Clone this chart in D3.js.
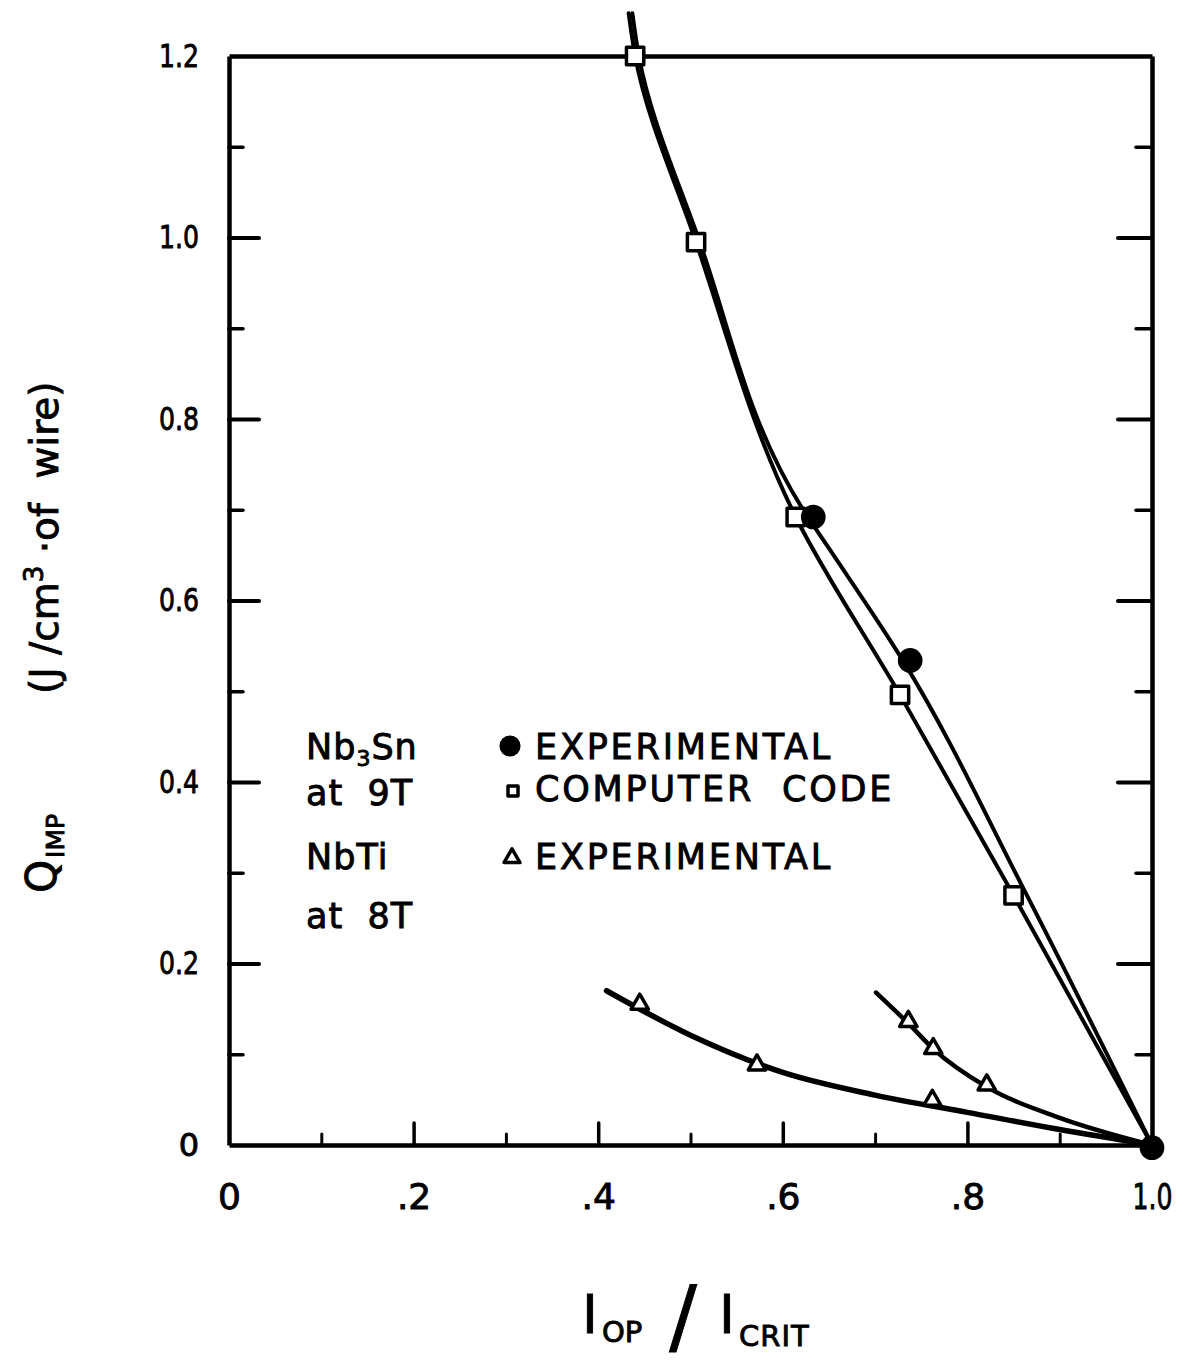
<!DOCTYPE html>
<html><head><meta charset="utf-8">
<script src="https://cdn.jsdelivr.net/npm/d3@7"></script>
<style>
body{margin:0;background:#fff}
text{font-family:"DejaVu Sans",sans-serif;fill:#000;stroke:#000;stroke-width:0.9px;white-space:pre}
</style>
</head><body>
<svg id="chart" width="1193" height="1364"></svg>
<script>
// ---- tick data ----
const xTickValues = [0, 0.2, 0.4, 0.6, 0.8, 1.0];
const xTickLabels = ["0", ".2", ".4", ".6", ".8", "1.0"];
const xMinorTicks = [0.1, 0.3, 0.5, 0.7, 0.9];
const yTickValues = [0, 0.2, 0.4, 0.6, 0.8, 1.0, 1.2];
const yTickLabels = ["0", "0.2", "0.4", "0.6", "0.8", "1.0", "1.2"];
const yMinorTicks = [0.1, 0.3, 0.5, 0.7, 0.9, 1.1];

// ---- Nb3Sn at 9T : computer code (squares) ----
const codeCurveX = [0.433, 0.440, 0.506, 0.614, 0.727, 0.850, 1.0];
const codeCurveY = [1.247, 1.200, 0.995, 0.692, 0.496, 0.275, 0.0];
const codePointsX = [0.440, 0.506, 0.614, 0.727, 0.850];
const codePointsY = [1.200, 0.995, 0.692, 0.496, 0.275];

// ---- Nb3Sn at 9T : experimental (filled circles) ----
const expCurveX = [0.437, 0.444, 0.510, 0.622, 0.651, 0.730, 0.862, 1.0];
const expCurveY = [1.247, 1.200, 0.995, 0.700, 0.656, 0.534, 0.280, 0.0];
const expPointsX = [0.633, 0.738, 1.0];
const expPointsY = [0.692, 0.534, -0.003];

// ---- NbTi at 8T : experimental (triangles), two curves ----
const nbtiLowCurveX = [0.409, 0.500, 0.600, 0.700, 0.800, 0.900, 1.0];
const nbtiLowCurveY = [0.170, 0.121, 0.080, 0.055, 0.036, 0.017, 0.0];
const nbtiHighCurveX = [0.701, 0.736, 0.763, 0.821, 0.900, 1.0];
const nbtiHighCurveY = [0.168, 0.134, 0.106, 0.064, 0.030, 0.0];
const nbtiPointsX = [0.445, 0.572, 0.762, 0.736, 0.763, 0.821];
const nbtiPointsY = [0.153, 0.086, 0.047, 0.134, 0.104, 0.064];

// ---- legend ----
const legendGroups = [["Nb", "3", "Sn"], ["at  9T"], ["NbTi"], ["at  8T"]];
const legendEntries = ["EXPERIMENTAL", "COMPUTER  CODE", "EXPERIMENTAL"];
const legendSymbols = ["circle", "square", "triangle"];

const svg = d3.select("#chart");
const x = d3.scaleLinear().domain([0, 1]).range([229, 1152]);
const y = d3.scaleLinear().domain([0, 1.2]).range([1145, 56]);
const zip = (xs, ys) => xs.map((v, i) => [v, ys[i]]);

const ax = svg.append("g");
function styleAxis(g, w) {
  g.selectAll("path.domain").attr("stroke", "#000").attr("stroke-width", 4.5);
  g.selectAll(".tick line").attr("stroke", "#000").attr("stroke-width", w).attr("stroke-linecap", "round");
}
// bottom
const gB = ax.append("g").attr("transform", `translate(0,${y(0)})`)
  .call(d3.axisBottom(x).tickValues(xTickValues).tickSize(-22).tickSizeOuter(0)
    .tickFormat((d, i) => xTickLabels[i]));
gB.selectAll("text").attr("y", 64).attr("dy", null).attr("font-size", 36).attr("font-family", "DejaVu Sans")
  .each(function(d, i) { if (xTickLabels[i].length === 3) d3.select(this).attr("textLength", 40).attr("lengthAdjust", "spacingAndGlyphs"); });
styleAxis(gB, 3.5);
gB.selectAll(".tick").filter(d => d === 0 || d === 1).select("line").remove();
const gBm = ax.append("g").attr("transform", `translate(0,${y(0)})`)
  .call(d3.axisBottom(x).tickValues(xMinorTicks).tickSize(-11).tickSizeOuter(0).tickFormat(""));
gBm.select("path.domain").remove();
styleAxis(gBm, 3);
// top
const gT = ax.append("g").attr("transform", `translate(0,${y(1.2)})`)
  .call(d3.axisTop(x).tickValues([]).tickSizeOuter(0));
styleAxis(gT, 3);
// left
const gL = ax.append("g").attr("transform", `translate(${x(0)},0)`)
  .call(d3.axisLeft(y).tickValues(yTickValues).tickSize(-30).tickSizeOuter(0)
    .tickFormat((d, i) => yTickLabels[i]));
gL.selectAll("text").attr("x", -30).attr("font-size", 32).attr("font-family", "DejaVu Sans")
  .each(function(d, i) { if (yTickLabels[i].length === 3) d3.select(this).attr("textLength", 40).attr("lengthAdjust", "spacingAndGlyphs"); });
styleAxis(gL, 4);
gL.selectAll(".tick").filter(d => d === 0 || d === 1.2).select("line").remove();
const gLm = ax.append("g").attr("transform", `translate(${x(0)},0)`)
  .call(d3.axisLeft(y).tickValues(yMinorTicks).tickSize(-14).tickSizeOuter(0).tickFormat(""));
gLm.select("path.domain").remove();
styleAxis(gLm, 3.5);
// right
const gR = ax.append("g").attr("transform", `translate(${x(1)},0)`)
  .call(d3.axisRight(y).tickValues(yTickValues.filter(v => v > 0 && v < 1.2)).tickSize(-34).tickSizeOuter(0).tickFormat(""));
styleAxis(gR, 4);
const gRm = ax.append("g").attr("transform", `translate(${x(1)},0)`)
  .call(d3.axisRight(y).tickValues(yMinorTicks).tickSize(-16).tickSizeOuter(0).tickFormat(""));
gRm.select("path.domain").remove();
styleAxis(gRm, 3.5);

// curves
const byY = pts => pts.slice().sort((a, b) => a[1] - b[1]);
const lineY = d3.line().x(d => x(d[0])).y(d => y(d[1])).curve(d3.curveMonotoneY);
const lineX = d3.line().x(d => x(d[0])).y(d => y(d[1])).curve(d3.curveMonotoneX);
const curves = [
  [lineY(byY(zip(codeCurveX, codeCurveY))), 4],
  [lineY(byY(zip(expCurveX, expCurveY))), 4],
  [lineX(zip(nbtiLowCurveX, nbtiLowCurveY)), 5.5],
  [lineX(zip(nbtiHighCurveX, nbtiHighCurveY)), 4.5]
];
svg.append("g").selectAll("path").data(curves).join("path")
  .attr("d", d => d[0]).attr("fill", "none").attr("stroke", "#000")
  .attr("stroke-width", d => d[1]).attr("stroke-linecap", "round");

// markers
const sym = {
  circle: d3.symbol().type(d3.symbolCircle).size(480),
  square: d3.symbol().type(d3.symbolSquare).size(300),
  triangle: d3.symbol().type(d3.symbolTriangle).size(130)
};
svg.append("g").selectAll("path").data(zip(codePointsX, codePointsY)).join("path")
  .attr("transform", d => `translate(${x(d[0])},${y(d[1])})`)
  .attr("d", sym.square()).attr("fill", "#fff").attr("stroke", "#000")
  .attr("stroke-width", 3.5).attr("stroke-linejoin", "round");
svg.append("g").selectAll("path").data(zip(expPointsX, expPointsY)).join("path")
  .attr("transform", d => `translate(${x(d[0])},${y(d[1])})`)
  .attr("d", sym.circle()).attr("fill", "#000");
svg.append("g").selectAll("path").data(zip(nbtiPointsX, nbtiPointsY)).join("path")
  .attr("transform", d => `translate(${x(d[0])},${y(d[1]) - 2})`)
  .attr("d", sym.triangle()).attr("fill", "#fff").attr("stroke", "#000")
  .attr("stroke-width", 3.5).attr("stroke-linejoin", "round");

// legend
const lg = svg.append("g").attr("font-size", 35);
const lgBase = [759, 805, 869, 928];
legendGroups.forEach((parts, i) => {
  const t = lg.append("text").attr("x", 306).attr("y", lgBase[i]).attr("letter-spacing", 1);
  if (parts.length === 3) {
    t.append("tspan").text(parts[0]);
    t.append("tspan").text(parts[1]).attr("font-size", 22).attr("dy", 7);
    t.append("tspan").text(parts[2]).attr("dy", -7);
  } else t.text(parts[0]);
});
const entryBase = [759, 801, 869];
legendEntries.forEach((txt, i) => {
  lg.append("text").attr("x", 535).attr("y", entryBase[i]).attr("letter-spacing", 2.8).text(txt);
});
const symPos = [[510, 746], [513, 791], [512, 858]];
const legendSym = [
  d3.symbol().type(d3.symbolCircle).size(350)(),
  d3.symbol().type(d3.symbolSquare).size(100)(),
  d3.symbol().type(d3.symbolTriangle).size(110)()
];
legendSymbols.forEach((s, i) => {
  lg.append("path").attr("transform", `translate(${symPos[i][0]},${symPos[i][1]})`)
    .attr("d", legendSym[i])
    .attr("fill", s === "circle" ? "#000" : "#fff")
    .attr("stroke", "#000").attr("stroke-width", s === "circle" ? 0 : 3.5)
    .attr("stroke-linejoin", "round");
});

// y-axis title (rotated)
const yt1 = svg.append("text").attr("transform", "translate(56,893) rotate(-90)").attr("font-size", 42);
yt1.append("tspan").text("Q");
yt1.append("tspan").text("IMP").attr("font-size", 25).attr("dy", 8).attr("dx", 2);
const yt2 = svg.append("text").attr("transform", "translate(58,694) rotate(-90)").attr("font-size", 39);
yt2.append("tspan").text("(J /cm");
yt2.append("tspan").text("3").attr("font-size", 26).attr("dy", -15);
yt2.append("tspan").text(" ·of  wire)").attr("dy", 15);

// x-axis title
const xt = svg.append("g");
xt.append("text").attr("x", 590).attr("y", 1333).attr("font-size", 54).attr("font-family", "DejaVu Serif").attr("text-anchor", "middle").text("I");
xt.append("text").attr("x", 602).attr("y", 1342).attr("font-size", 29).text("OP");
xt.append("text").attr("x", 683).attr("y", 1344).attr("font-size", 82).attr("text-anchor", "middle").text("/");
xt.append("text").attr("x", 727).attr("y", 1333).attr("font-size", 54).attr("font-family", "DejaVu Serif").attr("text-anchor", "middle").text("I");
xt.append("text").attr("x", 739).attr("y", 1346).attr("font-size", 29).attr("letter-spacing", 1).text("CRIT");
</script>
</body></html>
